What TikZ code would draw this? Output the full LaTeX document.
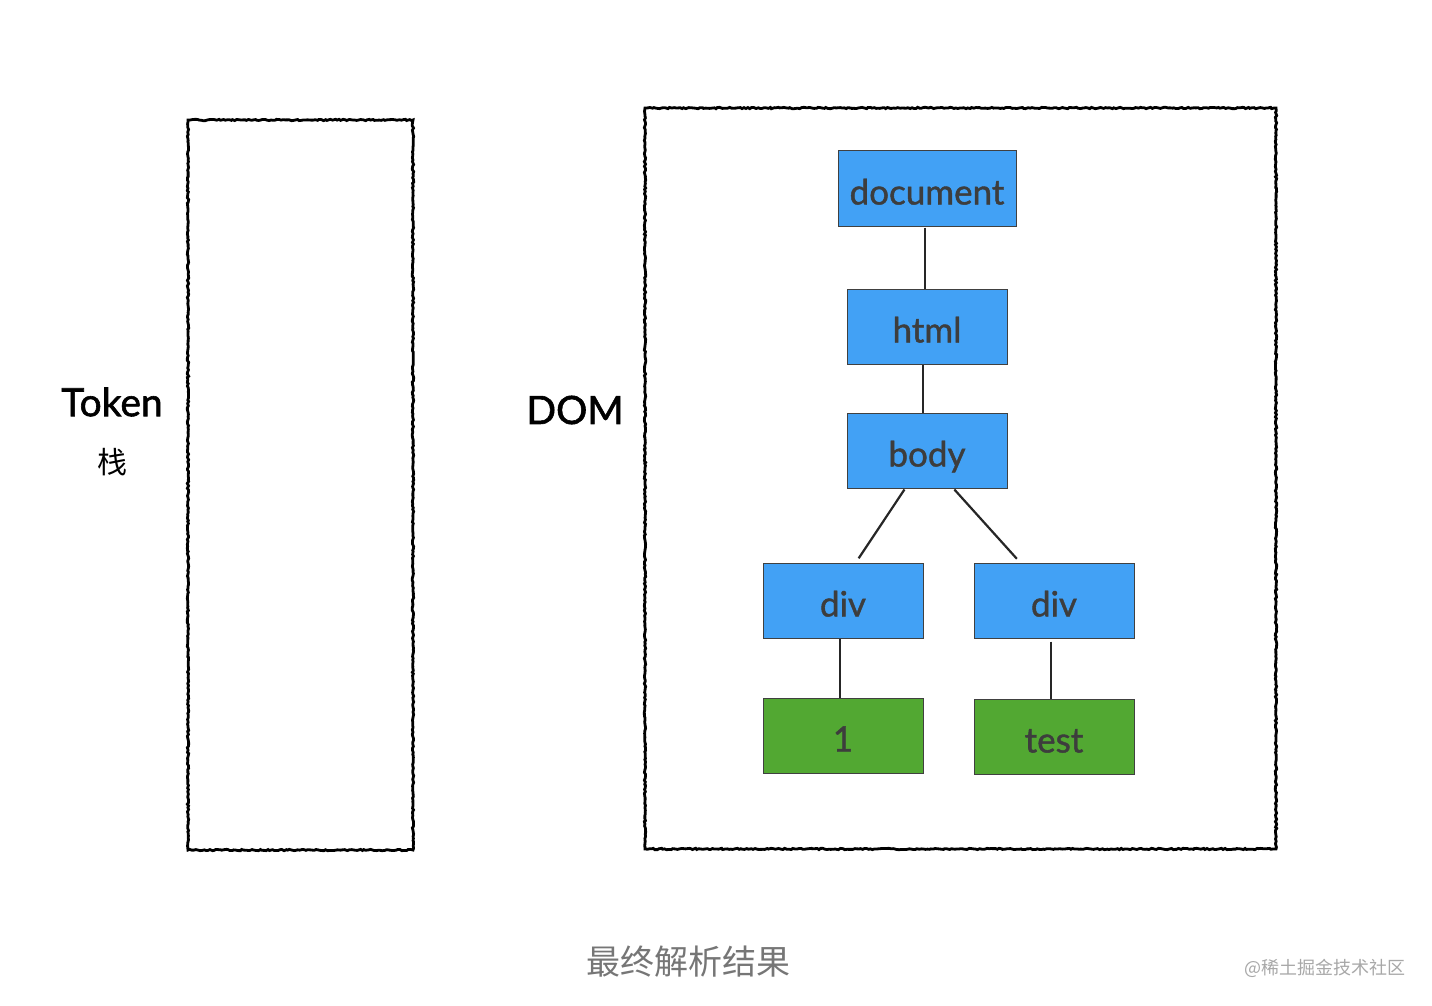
\documentclass[tikz,border=0pt]{standalone}
\usepackage{fontspec}
\setmainfont{Lato}
\newfontfamily\labelfont[FakeBold=1.2]{Lato}
\newfontfamily\sidefont[FakeBold=1.5]{Lato}
\newfontfamily\cjk{Noto Sans CJK SC}
\usetikzlibrary{calc,decorations.pathmorphing}
\definecolor{nodeblue}{HTML}{42A1F5}
\definecolor{nodegreen}{HTML}{52A832}
\definecolor{labelgray}{HTML}{3D3D3D}
\definecolor{capgray}{HTML}{767676}
\definecolor{wmgray}{HTML}{A8A8A8}
\tikzset{
  rough/.style={draw=black, line width=2.8pt, decorate, decoration={random steps, segment length=2pt, amplitude=0.7pt}},
  domnode/.style={draw=black!75, line width=1pt, minimum width=160pt, minimum height=75pt, inner sep=0pt, text height=32pt, text depth=0pt, text=labelgray, font=\labelfont\fontsize{35}{35}\selectfont},
  bluebox/.style={domnode, fill=nodeblue},
  greenbox/.style={domnode, fill=nodegreen},
  link/.style={draw=black!85, line width=2.2pt},
  sidelabel/.style={font=\sidefont\fontsize{39}{39}\selectfont, text=black}
}
\begin{document}
\begin{tikzpicture}[x=1pt,y=-1pt]
\useasboundingbox (0,0) rectangle (1432,1006);
\fill[white] (0,0) rectangle (1432,1006);
% token stack box
\draw[rough] (188,120) rectangle (413,850);
\node[sidelabel] (token) at (112,402) {Token};
\node[font=\cjk\fontsize{30}{30}\selectfont] (zhan) at (112,462) {栈};
% DOM box
\node[sidelabel] (domlabel) at (575,410) {DOM};
\draw[rough] (645,108) rectangle (1276,849);
% nodes
\node[bluebox, minimum width=178pt] (document) at (927,188.5) {document};
\node[bluebox] (html) at (927,326.5) {html};
\node[bluebox] (body) at (927,450.5) {body};
\node[bluebox] (div1) at (843,600.5) {div};
\node[bluebox] (div2) at (1054,600.5) {div};
\node[greenbox] (one) at (843,735.5) {1};
\node[greenbox] (test) at (1054,736.5) {test};
% connectors
\draw[link] ($(document.south)+(-2,1)$) -- ($(html.north)+(-2,0)$);
\draw[link] ($(html.south)+(-4,0)$) -- ($(body.north)+(-4,0)$);
\draw[link, shorten >=5pt] ($(body.south west)!0.36!(body.south east)+(0,1)$) -- ($(div1.north west)!0.58!(div1.north east)$);
\draw[link, shorten >=5pt] ($(body.south west)!0.67!(body.south east)+(0,1)$) -- ($(div2.north west)!0.29!(div2.north east)$);
\draw[link] ($(div1.south)+(-3,0)$) -- ($(one.north)+(-3,0)$);
\draw[link, shorten <=3pt] ($(div2.south)+(-3,0)$) -- ($(test.north)+(-3,0)$);
% captions
\node[font=\cjk\fontsize{34}{34}\selectfont, text=capgray] (caption) at (688,962) {最终解析结果};
\node[font=\cjk\fontsize{18}{18}\selectfont, text=wmgray] (wm) at (1325,968) {@稀土掘金技术社区};
\end{tikzpicture}
\end{document}
